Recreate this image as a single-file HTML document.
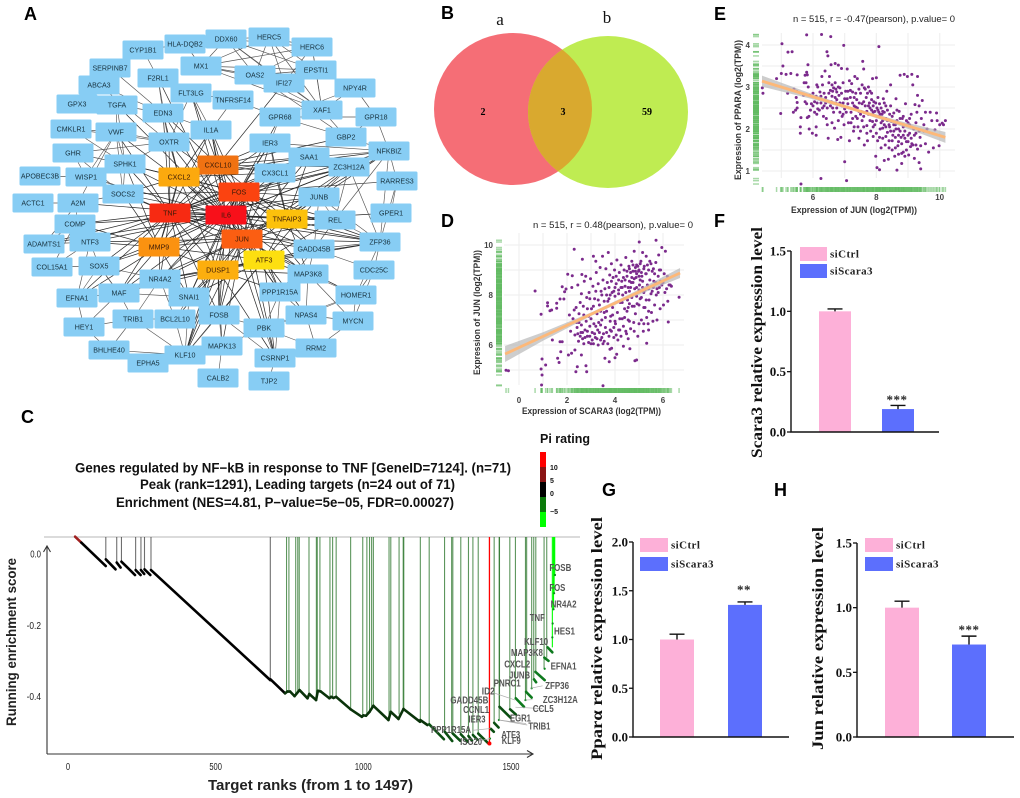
<!DOCTYPE html>
<html lang="en">
<head>
<meta charset="utf-8">
<title>Multi-panel gene expression figure</title>
<style>
html,body{margin:0;padding:0;background:#fff;}
svg{display:block;}
text{font-family:"Liberation Sans",sans-serif;}
.serif{font-family:"Liberation Serif",serif;font-weight:bold;}
.letter{font-size:18px;font-weight:bold;fill:#000;}
</style>
</head>
<body>
<svg id="fig" width="1020" height="798" viewBox="0 0 1020 798" xmlns="http://www.w3.org/2000/svg">
<rect x="0" y="0" width="1020" height="798" fill="#fff"/>

<text class="letter" x="24" y="20">A</text>
<text class="letter" x="441" y="19">B</text>
<text class="letter" x="21" y="423">C</text>
<text class="letter" x="441" y="227">D</text>
<text class="letter" x="714" y="20">E</text>
<text class="letter" x="714" y="227">F</text>
<text class="letter" x="602" y="496">G</text>
<text class="letter" x="774" y="496">H</text>

<g id="network"><g id="net-edges"></g><g id="net-nodes"></g></g>

<g id="venn">
<defs><clipPath id="clipA"><ellipse cx="513" cy="109" rx="79" ry="76"/></clipPath></defs>
<ellipse cx="513" cy="109" rx="79" ry="76" fill="#f56e76"/>
<ellipse cx="608" cy="112" rx="80" ry="76" fill="#bfec52"/>
<ellipse cx="608" cy="112" rx="80" ry="76" fill="#d9a92f" clip-path="url(#clipA)"/>
<text class="serif" style="font-weight:normal" x="500" y="25" font-size="17" text-anchor="middle" fill="#111">a</text>
<text class="serif" style="font-weight:normal" x="607" y="23" font-size="17" text-anchor="middle" fill="#111">b</text>
<text class="serif" x="483" y="115" font-size="10" text-anchor="middle">2</text>
<text class="serif" x="563" y="115" font-size="10" text-anchor="middle">3</text>
<text class="serif" x="647" y="115" font-size="10" text-anchor="middle">59</text>
</g>

<g id="scatterE">
<text x="793" y="22" font-size="9.5" textLength="162" lengthAdjust="spacingAndGlyphs" fill="#222">n = 515, r = -0.47(pearson), p.value= 0</text>
<text x="791" y="213" font-size="9" font-weight="bold" textLength="126" lengthAdjust="spacingAndGlyphs" fill="#333">Expression of JUN (log2(TPM))</text>
<text transform="translate(741,180) rotate(-90)" font-size="9" font-weight="bold" textLength="140" lengthAdjust="spacingAndGlyphs" fill="#333">Expression of PPARA (log2(TPM))</text>
</g>

<g id="scatterD">
<text x="533" y="228" font-size="9.5" textLength="160" lengthAdjust="spacingAndGlyphs" fill="#222">n = 515, r = 0.48(pearson), p.value= 0</text>
<text x="522" y="414" font-size="9" font-weight="bold" textLength="139" lengthAdjust="spacingAndGlyphs" fill="#333">Expression of SCARA3 (log2(TPM))</text>
<text transform="translate(480,375) rotate(-90)" font-size="9" font-weight="bold" textLength="125" lengthAdjust="spacingAndGlyphs" fill="#333">Expression of JUN (log2(TPM))</text>
</g>

<g id="gsea">
<text x="75" y="472.5" font-size="13.5" font-weight="bold" textLength="436" lengthAdjust="spacingAndGlyphs" fill="#111">Genes regulated by NF−kB in response to TNF [GeneID=7124]. (n=71)</text>
<text x="140" y="489" font-size="13.5" font-weight="bold" textLength="315" lengthAdjust="spacingAndGlyphs" fill="#111">Peak (rank=1291), Leading targets (n=24 out of 71)</text>
<text x="116" y="507" font-size="13.5" font-weight="bold" textLength="338" lengthAdjust="spacingAndGlyphs" fill="#111">Enrichment (NES=4.81, P−value=5e−05, FDR=0.00027)</text>
<text x="540" y="443" font-size="12.5" font-weight="bold" textLength="50" lengthAdjust="spacingAndGlyphs" fill="#111">Pi rating</text>
<text transform="translate(16,726) rotate(-90)" font-size="13.5" font-weight="bold" textLength="168" lengthAdjust="spacingAndGlyphs" fill="#222">Running enrichment score</text>
<text x="208" y="790" font-size="14.5" font-weight="bold" textLength="205" lengthAdjust="spacingAndGlyphs" fill="#222">Target ranks (from 1 to 1497)</text>
</g>

<g id="barF"></g>
<g id="barG"></g>
<g id="barH"></g>
</svg>

<script>
/* ---------- PANEL A DATA ---------- */
const netNodes = [
["CYP1B1",143,50],["HLA-DQB2",185,44],["DDX60",226,39],["HERC5",269,37],["HERC6",312,47],["SERPINB7",110,68],["MX1",201,66],["OAS2",255,75],["EPSTI1",316,70],["F2RL1",158,78],["ABCA3",99,85],["FLT3LG",191,93],["NPY4R",355,88],["IFI27",284,83],["GPX3",77,104],["TGFA",117,105],["TNFRSF14",233,100],["XAF1",322,110],["EDN3",163,113],["GPR68",280,117],["GPR18",376,117],["CMKLR1",71,129],["VWF",116,132],["IL1A",211,130],["GBP2",346,137],["OXTR",169,142],["IER3",270,143],["NFKBIZ",389,151],["GHR",73,153],["SAA1",309,157],["SPHK1",125,164],["ZC3H12A",349,167],["APOBEC3B",40,176],["WISP1",86,177],["CX3CL1",275,173],["RARRES3",397,181],["SOCS2",123,194],["JUNB",319,197],["ACTC1",33,203],["A2M",78,203],["REL",335,220],["GPER1",391,213],["COMP",75,224],["NTF3",90,242],["ADAMTS1",44,244],["ZFP36",380,242],["GADD45B",314,249],["COL15A1",52,267],["SOX5",99,266],["CDC25C",374,270],["MAP3K8",308,274],["NR4A2",160,279],["PPP1R15A",280,292],["MAF",119,293],["EFNA1",77,298],["SNAI1",189,297],["HOMER1",356,295],["NPAS4",306,315],["FOSB",219,315],["TRIB1",133,319],["BCL2L10",175,319],["MYCN",353,321],["HEY1",84,327],["PBK",264,328],["MAPK13",222,346],["RRM2",316,348],["BHLHE40",109,350],["KLF10",185,355],["CSRNP1",275,358],["EPHA5",148,363],["CALB2",218,378],["TJP2",269,381]
];
const hubNodes = [
["CXCL10",218,165,"#f07212"],["CXCL2",179,177,"#fca90e"],["FOS",239,192,"#fb4310"],["TNF",170,213,"#f72a12"],["IL6",226,215,"#f8101a"],["TNFAIP3",287,219,"#fcc10c"],["JUN",242,239,"#fb5e12"],["MMP9",159,247,"#fb9210"],["ATF3",264,260,"#fddf10"],["DUSP1",218,270,"#fcae0e"]
];
const hubLinks = {
IL6:"TNF FOS JUN CXCL2 CXCL10 MMP9 DUSP1 ATF3 TNFAIP3 SOCS2 IL1A OXTR EDN3 NR4A2 SNAI1 FOSB MAF NTF3 A2M COMP SOX5 WISP1 SPHK1 VWF TGFA IER3 SAA1 CX3CL1 JUNB REL GADD45B MAP3K8 PPP1R15A ZFP36 NFKBIZ ZC3H12A GPR68 KLF10 ADAMTS1 F2RL1 FLT3LG PBK",
TNF:"FOS JUN CXCL2 CXCL10 MMP9 DUSP1 ATF3 TNFAIP3 SOCS2 IL1A OXTR EDN3 NR4A2 SNAI1 FOSB MAF NTF3 COMP SOX5 WISP1 SPHK1 VWF IER3 SAA1 CX3CL1 JUNB REL GADD45B ZFP36 ZC3H12A ADAMTS1 EFNA1",
FOS:"JUN CXCL2 CXCL10 MMP9 DUSP1 ATF3 TNFAIP3 IL1A NR4A2 SNAI1 FOSB IER3 SAA1 CX3CL1 JUNB REL GADD45B MAP3K8 PPP1R15A ZFP36 NFKBIZ ZC3H12A KLF10 CSRNP1 SOCS2 SPHK1 OXTR RARRES3",
JUN:"CXCL2 CXCL10 MMP9 DUSP1 ATF3 TNFAIP3 IL1A NR4A2 SNAI1 FOSB IER3 SAA1 CX3CL1 JUNB REL GADD45B MAP3K8 PPP1R15A ZFP36 NFKBIZ ZC3H12A KLF10 CSRNP1 MAF NTF3 MAPK13 HOMER1",
CXCL2:"CXCL10 MMP9 DUSP1 TNFAIP3 IL1A EDN3 SAA1 CX3CL1 OXTR NFKBIZ SOCS2 SPHK1",
CXCL10:"MMP9 TNFAIP3 IL1A IFI27 SAA1 CX3CL1 EDN3 FLT3LG IER3 GBP2 ZC3H12A",
MMP9:"DUSP1 ATF3 TNFAIP3 SOCS2 NTF3 SOX5 COMP EFNA1 MAF NR4A2 SNAI1 SPHK1",
DUSP1:"ATF3 TNFAIP3 NR4A2 SNAI1 FOSB KLF10 MAP3K8 PPP1R15A GADD45B ZFP36 MAF CSRNP1 BCL2L10 MAPK13",
ATF3:"TNFAIP3 NR4A2 SNAI1 FOSB GADD45B MAP3K8 PPP1R15A ZFP36 KLF10 REL JUNB CSRNP1 NPAS4",
TNFAIP3:"REL JUNB GADD45B ZFP36 NFKBIZ ZC3H12A IER3 SAA1 CX3CL1 MAP3K8 GPER1"
};
const otherLinks = "MX1-OAS2 MX1-IFI27 MX1-EPSTI1 MX1-HERC5 MX1-HERC6 MX1-DDX60 MX1-XAF1 MX1-HLA-DQB2 OAS2-IFI27 OAS2-EPSTI1 OAS2-HERC5 OAS2-HERC6 OAS2-DDX60 OAS2-XAF1 OAS2-GBP2 IFI27-EPSTI1 IFI27-HERC5 IFI27-HERC6 IFI27-DDX60 IFI27-XAF1 EPSTI1-HERC5 EPSTI1-HERC6 EPSTI1-DDX60 EPSTI1-XAF1 HERC5-HERC6 HERC5-DDX60 HERC5-XAF1 HERC6-DDX60 HERC6-XAF1 DDX60-XAF1 DDX60-HLA-DQB2 XAF1-GBP2 GBP2-NFKBIZ CYP1B1-HLA-DQB2 CYP1B1-SERPINB7 CYP1B1-F2RL1 SERPINB7-EDN3 ABCA3-EDN3 ABCA3-OXTR F2RL1-EDN3 F2RL1-FLT3LG F2RL1-OXTR GPX3-TGFA TGFA-EDN3 TGFA-SPHK1 TGFA-VWF EDN3-OXTR EDN3-IL1A VWF-WISP1 VWF-SPHK1 VWF-OXTR VWF-SOCS2 VWF-A2M FLT3LG-IL1A FLT3LG-OXTR FLT3LG-TNFRSF14 TNFRSF14-IL1A TNFRSF14-GPR68 NPY4R-XAF1 NPY4R-GPR68 NPY4R-GPR18 GPR18-GPR68 GPR18-NFKBIZ GPR18-GBP2 GPR68-GBP2 GPR68-IER3 IER3-SAA1 IER3-ZC3H12A IER3-NFKBIZ IER3-CX3CL1 SAA1-CX3CL1 SAA1-ZC3H12A SAA1-NFKBIZ ZC3H12A-NFKBIZ ZC3H12A-JUNB ZC3H12A-REL ZC3H12A-ZFP36 NFKBIZ-RARRES3 NFKBIZ-REL NFKBIZ-ZFP36 RARRES3-GPER1 RARRES3-ZFP36 JUNB-REL JUNB-ZFP36 JUNB-GADD45B REL-ZFP36 REL-GADD45B GADD45B-ZFP36 GADD45B-MAP3K8 GADD45B-PPP1R15A GADD45B-CDC25C ZFP36-CDC25C ZFP36-HOMER1 CDC25C-HOMER1 CDC25C-MYCN HOMER1-NPAS4 HOMER1-MYCN HOMER1-MAP3K8 MAP3K8-NPAS4 MAP3K8-PPP1R15A MAP3K8-MYCN PPP1R15A-NPAS4 PPP1R15A-PBK PPP1R15A-CSRNP1 NPAS4-RRM2 NPAS4-MYCN NPAS4-PBK MYCN-RRM2 PBK-RRM2 PBK-CSRNP1 PBK-MAPK13 PBK-FOSB PBK-HOMER1 RRM2-CSRNP1 CSRNP1-TJP2 CSRNP1-FOSB MAPK13-CALB2 MAPK13-KLF10 MAPK13-FOSB KLF10-FOSB KLF10-EPHA5 KLF10-BHLHE40 KLF10-BCL2L10 KLF10-TRIB1 KLF10-SNAI1 FOSB-SNAI1 FOSB-NR4A2 FOSB-BCL2L10 BCL2L10-TRIB1 BCL2L10-NR4A2 BCL2L10-SNAI1 TRIB1-BHLHE40 TRIB1-MAF TRIB1-NR4A2 TRIB1-HEY1 BHLHE40-EPHA5 BHLHE40-HEY1 HEY1-MAF HEY1-EFNA1 EFNA1-MAF EFNA1-SOX5 EFNA1-NTF3 MAF-SOX5 MAF-NR4A2 MAF-SNAI1 NR4A2-SNAI1 COL15A1-SOX5 COL15A1-NTF3 COL15A1-COMP ADAMTS1-COMP ADAMTS1-NTF3 ADAMTS1-A2M NTF3-SOX5 NTF3-COMP COMP-A2M ACTC1-A2M A2M-SOCS2 APOBEC3B-WISP1 WISP1-SPHK1 WISP1-SOCS2 WISP1-GHR GHR-SPHK1 GHR-SOCS2 GHR-OXTR CMKLR1-SPHK1 CMKLR1-OXTR CMKLR1-VWF SPHK1-OXTR SOCS2-SPHK1 SOX5-NR4A2 SOX5-MAF".split(" ");

/* ---------- PANEL E DATA (JUN, PPARA) ---------- */
const eRegressionX = [4.39, 10.18];
const eRegressionY = [3.14, 1.80];
const eBandX = [4.39, 6.0, 7.4, 8.8, 10.18];
const eBandHalf = [0.13, 0.06, 0.035, 0.06, 0.13];
const eXTicks = [6, 8, 10];
const eYTicks = [1, 2, 3, 4];
const ePoints = [
[4.4,2.98],[4.42,2.85],[4.85,3.2],[5.0,3.32],[5.05,3.5],[5.02,4.03],[5.21,3.83],[5.34,3.84],[5.15,3.3],[5.3,3.32],[4.98,2.37],[5.2,2.85],[5.4,2.95],[5.48,2.9],[5.5,3.29],[5.38,2.4],[5.45,2.45],[5.5,2.5],[5.47,2.75],[5.5,2.63],[5.6,1.9],[5.6,2.05],[5.62,2.27],[5.62,0.69],[5.8,4.24],[5.72,3.1],[5.75,3.28],[5.8,3.35],[5.82,3.29],[5.84,3.53],[5.78,3.1],[5.85,3.0],[5.75,2.65],[5.7,2.8],[5.8,2.6],[5.9,2.8],[5.82,2.27],[5.87,2.3],[5.88,2.0],[5.95,2.6],[5.98,1.9],[6.0,2.85],[6.05,2.65],[6.1,1.85],[6.1,2.05],[6.12,2.35],[6.13,2.62],[6.12,3.05],[6.15,3.0],[6.2,2.45],[6.22,2.88],[6.25,2.78],[6.27,4.25],[6.25,0.82],[6.28,3.25],[6.33,2.3],[6.35,2.85],[6.38,3.38],[6.4,2.62],[6.42,2.25],[6.44,3.84],[6.47,3.74],[6.45,2.1],[6.48,1.78],[6.5,2.85],[6.52,3.25],[6.55,2.55],[6.56,4.2],[6.57,3.53],[6.6,3.05],[6.62,2.9],[6.65,2.4],[6.68,2.02],[6.7,3.56],[6.72,2.95],[6.75,2.7],[6.78,1.75],[6.8,3.52],[6.8,2.2],[6.82,2.8],[6.85,2.98],[6.88,1.8],[6.9,3.44],[6.92,2.55],[6.95,2.35],[6.97,3.99],[6.98,2.1],[7.0,1.22],[7.0,2.72],[7.03,2.9],[7.06,0.77],[7.08,3.43],[7.1,2.6],[7.12,2.15],[7.15,1.72],[7.18,2.75],[7.2,2.4],[7.22,3.08],[7.25,2.88],[7.28,1.95],[7.3,2.55],[7.32,3.25],[7.35,2.3],[7.38,2.7],[7.4,3.2],[7.42,2.05],[7.45,1.78],[7.46,2.62],[7.5,2.85],[7.52,2.42],[7.55,2.2],[7.57,3.61],[7.6,3.43],[7.62,2.98],[7.62,1.62],[7.65,2.55],[7.68,2.75],[7.7,2.08],[7.72,1.72],[7.75,3.0],[7.75,2.35],[7.78,2.62],[7.8,2.9],[7.82,1.95],[7.85,2.45],[7.88,3.2],[7.88,2.18],[7.9,1.82],[7.92,2.65],[7.95,2.42],[7.98,1.35],[8.0,2.2],[8.0,3.22],[8.02,1.08],[8.04,1.72],[8.05,2.45],[8.08,3.96],[8.1,1.03],[8.1,2.6],[8.12,2.0],[8.15,1.55],[8.18,2.35],[8.2,1.78],[8.22,2.72],[8.25,1.25],[8.25,2.1],[8.28,1.62],[8.3,2.55],[8.33,2.9],[8.35,1.92],[8.38,1.28],[8.4,1.72],[8.42,2.35],[8.45,3.05],[8.48,2.18],[8.5,1.5],[8.52,1.85],[8.55,2.38],[8.58,1.35],[8.6,2.1],[8.62,2.72],[8.65,1.02],[8.68,1.6],[8.7,2.0],[8.72,2.42],[8.75,3.28],[8.78,1.8],[8.8,1.18],[8.82,2.25],[8.85,1.45],[8.88,3.3],[8.9,1.95],[8.92,2.6],[8.95,1.7],[8.98,3.25],[9.0,2.15],[9.02,1.38],[9.05,1.9],[9.08,1.58],[9.1,2.35],[9.12,3.3],[9.15,3.05],[9.18,2.0],[9.2,1.3],[9.22,2.58],[9.25,1.9],[9.28,2.4],[9.3,3.25],[9.3,2.8],[9.35,1.2],[9.38,1.8],[9.4,1.05],[9.42,2.25],[9.45,2.68],[9.5,1.95],[9.55,2.4],[9.65,1.45],[9.7,2.4],[9.75,2.2],[9.8,1.55],[9.85,1.98],[9.9,2.38],[9.92,2.2],[9.98,1.6],[10.0,2.1],[10.08,2.14],[10.12,2.1],[10.18,2.2],
[6.3,2.5],[6.6,2.15],[6.9,2.85],[7.15,2.5],[7.4,2.5],[7.6,2.3],[7.72,2.85],[7.9,2.4],[8.05,2.3],[8.15,2.15],[8.3,2.25],[8.42,2.05],[8.55,2.1],[8.7,1.85],[8.85,2.05],[9.0,1.85],[9.12,1.65],[8.2,2.42],[7.95,2.1],[7.75,2.55],[7.3,2.75],[7.05,2.4],[6.75,2.5],[6.4,2.75],[8.75,2.25],[8.35,2.45],[8.95,2.2],[7.55,2.6],[7.1,2.9],[6.7,2.75],
[6.55,2.92],[6.6,2.78],[6.65,2.98],[6.7,3.1],[6.75,2.88],[6.8,3.0],[6.58,2.65],[6.62,2.5],[6.72,2.62],[6.85,2.62],[6.92,2.3],[7.0,2.48],[7.08,2.72],[7.18,2.92],[7.25,2.62],[7.35,2.52],[7.45,2.95],[7.5,2.35],[7.6,2.65],[7.7,2.42],[7.8,2.5],[7.85,2.7],[7.9,2.55],[7.98,2.62],[8.02,2.5],[8.08,2.4],[8.12,2.35],[8.15,2.5],[8.2,2.2],[8.25,2.4],[8.3,2.05],[8.35,2.2],[8.4,2.1],[8.45,1.95],[8.5,2.3],[8.55,1.95],[8.6,1.8],[8.62,2.0],[8.65,2.2],[8.7,1.7],[8.75,1.95],[8.8,1.65],[8.85,1.85],[8.9,1.78],[8.95,1.5],[9.0,1.7],[9.05,2.25],[9.1,1.78],[9.15,1.62],[9.2,1.85],[9.25,1.62],[9.3,1.52],[9.35,1.95],[7.5,1.95],[7.6,2.05],[7.7,1.9],[7.8,2.2],[7.9,2.05],[8.0,1.9],[8.1,1.8],[8.2,2.02],[8.3,1.82],[8.4,1.55],[8.5,1.72],[8.6,1.55],[8.7,1.4],[8.8,1.42],[8.9,1.35],[7.2,2.15],[7.3,2.05],[7.4,2.25],[7.45,2.42],[7.35,2.85],[7.25,2.25],[6.95,2.62],[6.85,2.4],[6.45,2.5],[6.35,2.55],[6.25,2.62],[6.2,2.72],[6.15,2.48],[6.05,2.4],[6.0,2.55],[5.92,2.45],[7.65,2.95],[7.85,2.85],[8.05,2.75],[8.25,2.62],[8.45,2.55],[8.65,2.45],[8.85,2.3],[9.05,2.1],[7.55,3.05],[7.15,3.15],[6.95,3.1],[6.5,3.1],[6.3,3.05],[6.1,2.78],[9.4,1.6],[9.5,2.1],[9.6,2.0],[9.55,1.65],[9.25,2.15],[9.1,2.05],[9.35,2.55]
];

/* ---------- PANEL D DATA (SCARA3, JUN) ---------- */
const dRegressionX = [-0.58, 6.71];
const dRegressionY = [5.64, 8.88];
const dBandX = [-0.58, 1.0, 3.0, 4.5, 6.71];
const dBandHalf = [0.32, 0.17, 0.07, 0.08, 0.2];
const dXTicks = [0, 2, 4, 6];
const dYTicks = [6, 8, 10];
const dPoints = [
[-0.54,4.99],[-0.44,4.97],[0.67,8.16],[0.92,7.23],[0.92,5.04],[0.96,5.44],[0.96,4.8],[0.94,4.4],[1.11,5.2],[1.19,7.69],[1.19,7.56],[1.29,7.37],[1.36,7.4],[1.57,7.47],[1.57,7.67],[1.71,7.84],[1.87,7.84],[1.8,8.33],[1.96,8.24],[1.9,8.13],[2.3,9.83],[2.03,8.83],[2.22,8.77],[2.64,9.43],[3.5,4.37],[5.01,10.12],[5.71,10.19],[6.67,7.91],[6.22,6.92],[5.32,6.07],[4.83,5.37],[4.9,5.4],[3.58,5.47],[3.76,5.33],[4.0,5.49],[4.07,5.63],[3.86,5.87],[3.79,5.83],[2.43,5.13],[2.37,4.93],[2.82,4.93],[2.79,5.17],[2.6,5.6],[2.19,5.67],[2.33,5.8],[1.71,6.13],[1.8,6.13],[1.74,5.73],[1.61,5.47],[2.06,5.6],[1.39,6.2],[1.67,5.3],
[2.1,7.2],[2.15,6.55],[2.2,8.3],[2.25,7.05],[2.3,7.4],[2.33,6.4],[2.38,7.5],[2.42,6.7],[2.45,8.4],[2.48,6.15],[2.5,6.9],[2.55,7.7],[2.58,6.5],[2.6,8.05],[2.62,8.82],[2.65,6.25],[2.68,7.55],[2.72,8.55],[2.75,6.6],[2.78,8.75],[2.8,6.95],[2.82,7.9],[2.85,6.35],[2.9,7.15],[2.92,8.1],[2.95,6.75],[2.98,8.65],[3.0,6.05],[3.02,7.45],[3.05,6.5],[3.08,8.35],[3.1,9.55],[3.12,6.85],[3.15,7.85],[3.18,6.3],[3.2,9.35],[3.22,8.9],[3.25,7.25],[3.28,6.6],[3.3,8.45],[3.32,6.9],[3.35,7.6],[3.38,9.1],[3.4,6.2],[3.42,8.15],[3.45,7.0],[3.48,9.55],[3.5,8.6],[3.52,6.45],[3.55,7.75],[3.58,8.25],[3.6,6.7],[3.62,9.05],[3.65,7.35],[3.68,8.5],[3.7,6.05],[3.72,9.7],[3.75,7.85],[3.78,8.8],[3.8,6.6],[3.82,7.15],[3.85,9.25],[3.88,8.1],[3.9,7.5],[3.92,8.7],[3.95,6.3],[3.98,9.0],[4.0,7.95],[4.02,6.85],[4.05,8.45],[4.08,9.4],[4.1,7.3],[4.12,6.2],[4.15,8.2],[4.18,8.9],[4.2,6.6],[4.22,7.7],[4.25,9.2],[4.28,8.55],[4.3,7.05],[4.32,8.0],[4.35,5.95],[4.38,9.0],[4.4,7.45],[4.42,8.35],[4.45,9.5],[4.48,6.45],[4.5,8.75],[4.52,7.8],[4.55,7.0],[4.58,9.15],[4.6,8.15],[4.62,5.85],[4.65,6.65],[4.68,8.5],[4.7,9.35],[4.72,7.55],[4.75,8.95],[4.78,6.9],[4.8,9.75],[4.82,8.25],[4.85,7.25],[4.88,8.7],[4.9,9.2],[4.92,7.65],[4.95,6.35],[4.98,8.95],[5.0,9.0],[5.02,8.4],[5.05,7.85],[5.08,9.35],[5.1,7.0],[5.12,8.75],[5.15,9.7],[5.18,6.55],[5.2,8.1],[5.22,9.15],[5.25,7.5],[5.28,8.85],[5.3,9.55],[5.32,7.1],[5.35,8.4],[5.38,6.85],[5.4,9.0],[5.42,7.8],[5.45,8.6],[5.5,9.25],[5.52,7.3],[5.55,8.15],[5.58,6.95],[5.6,9.05],[5.62,8.55],[5.65,7.6],[5.7,9.3],[5.72,8.0],[5.75,7.0],[5.8,8.75],[5.82,9.6],[5.85,8.3],[5.88,7.45],[5.9,9.0],[5.95,9.9],[6.0,8.5],[6.02,7.6],[6.05,8.85],[6.08,8.1],[6.1,9.75],[6.15,8.25],[6.18,8.75],[6.2,7.75],[6.25,8.4],[6.3,8.4],[6.35,8.35],[4.42,8.6],[4.6,8.55],[4.75,8.5],[4.9,8.85],[5.05,8.6],[4.3,8.3],[4.15,8.6],[5.0,8.2],[4.65,8.9],[4.85,9.1],[5.15,8.3],[4.0,8.3],[4.55,7.5],[3.7,7.75],[3.4,7.35],
[2.45,6.45],[2.55,6.35],[2.65,6.5],[2.75,6.3],[2.85,6.55],[2.95,6.35],[3.05,6.2],[3.15,6.45],[3.25,6.25],[3.35,6.5],[3.45,6.3],[3.55,6.15],[3.65,6.5],[3.75,6.35],[3.85,6.55],[3.95,6.7],[4.05,6.4],[4.15,6.6],[4.25,6.35],[4.35,6.75],[4.45,6.55],[4.55,6.25],[2.6,6.8],[2.7,6.05],[2.9,6.1],[3.1,6.05],[3.3,6.0],[3.5,6.05],[2.4,6.9],[2.5,7.25],[2.7,7.2],[3.0,7.05],[3.2,6.75],[3.4,6.8],[3.6,7.1],[3.8,6.95],[4.0,6.95],[4.2,7.05],[4.4,7.1],[4.6,6.95],[4.8,6.55],[5.0,6.85],[5.2,6.85],[5.4,6.6],[3.75,8.3],[3.85,8.55],[3.95,8.15],[4.05,8.75],[4.15,8.05],[4.25,8.3],[4.35,8.7],[4.45,8.1],[4.5,8.95],[4.55,8.3],[4.6,9.05],[4.65,8.3],[4.7,8.7],[4.75,9.2],[4.8,8.65],[4.85,8.95],[4.9,8.3],[4.95,9.15],[5.0,8.75],[5.05,9.25],[5.1,8.9],[5.15,8.55],[5.2,9.05],[5.25,8.2],[5.3,8.85],[5.35,9.2],[5.4,8.25],[5.45,9.35],[5.5,8.05],[5.55,8.95],[5.6,8.3],[5.65,8.85],[5.7,8.5],[5.75,8.25],[5.8,8.1],[5.85,9.0],[5.9,8.55],[5.95,8.4],[4.3,7.7],[4.4,7.85],[4.5,7.35],[4.6,7.65],[4.7,7.9],[4.8,7.55],[4.9,7.95],[5.0,7.6],[5.1,7.9],[5.2,7.5],[5.3,7.8],[5.4,7.35],[3.45,8.0],[3.55,7.3],[3.65,8.0],[3.8,8.0],[3.9,7.2],[3.2,8.15],[3.3,7.8],[3.1,7.55],[2.95,7.85],[2.85,7.45]
];

/* ---------- PANEL C DATA ---------- */
const rankTicks = [0, 500, 1000, 1500];
const scoreTicks = [0.0, -0.2, -0.4];
const scoreTickLabels = ["0.0", "-0.2", "-0.4"];
const hitRanks = [128,165,181,229,247,259,281,685,740,748,771,778,783,816,841,844,853,887,896,908,957,998,1012,1021,1028,1034,1087,1093,1121,1135,1137,1193,1223,1275,1299,1303,1330,1356,1371,1389,1427,1443,1460,1461,1496,1515,1549,1553,1570,1577,1584,1612,1621,1640,1644,1646,1648];
const hitScores = [-0.015,-0.024,-0.0215,-0.045,-0.045,-0.043,-0.045,-0.349,-0.386,-0.386,-0.395,-0.39,-0.382,-0.393,-0.395,-0.384,-0.386,-0.403,-0.402,-0.401,-0.436,-0.455,-0.453,-0.443,-0.433,-0.426,-0.455,-0.443,-0.45,-0.435,-0.435,-0.466,-0.478,-0.499,-0.505,-0.504,-0.506,-0.511,-0.508,-0.504,-0.532,-0.474,-0.466,-0.429,-0.436,-0.405,-0.41,-0.387,-0.377,-0.352,-0.331,-0.322,-0.291,-0.262,-0.155,-0.11,-0.059];
const hitPi = [1,1,1,1,1,1,1,1,-3,-3,-3,-3,-3,-3,-3,-3,-3,-3,-3,-3,-3,-3,-3,-3,-3,-3,-3,-3,-3,-3,-3,-3,-3,-3,-3,-3,-3,-3,-3,-3,10,-4,-4,-4,-4,-4,-4,-4,-4,-4,-4,-6,-6,-9,-9,-9,-9];
const curveRanks = [24,45,128,null,128,161,null,165,178,null,181,227,null,229,246,null,247,258,null,259,279,null,281,685,null,686,735,743,752,767,784,811,817,840,846,856,885,891,899,908,957,995,1000,1009,1021,1034,1085,1093,1119,1136,1192,null,1193,1217,null,1223,1273,null,1276,1301,null,1303,1328,null,1330,1354,null,1356,1368,null,1371,1386,null,1389,1424,null,1432,1442,null,1443,1458,null,1461,1499,null,1497,1516,null,1516,1544,null,1551,1570,null,1578,1585,null,1583,1614,null,1613,1627,null,1624,1640];
const curveScores = [0.0487,0.032,-0.0337,null,-0.015,-0.043,null,-0.024,-0.038,null,-0.0215,-0.059,null,-0.045,-0.059,null,-0.045,-0.056,null,-0.043,-0.059,null,-0.045,-0.354,null,-0.352,-0.391,-0.386,-0.386,-0.399,-0.382,-0.405,-0.393,-0.41,-0.384,-0.386,-0.405,-0.401,-0.404,-0.401,-0.436,-0.457,-0.453,-0.454,-0.443,-0.426,-0.466,-0.443,-0.463,-0.435,-0.471,null,-0.466,-0.48,null,-0.478,-0.52,null,-0.499,-0.525,null,-0.504,-0.524,null,-0.506,-0.527,null,-0.511,-0.524,null,-0.508,-0.521,null,-0.504,-0.532,null,-0.491,-0.499,null,-0.474,-0.487,null,-0.429,-0.46,null,-0.436,-0.45,null,-0.405,-0.429,null,-0.387,-0.403,null,-0.352,-0.36,null,-0.331,-0.354,null,-0.291,-0.3,null,-0.262,-0.276];
const dotRanks = [1429,1459,1549,1570,1614,1640,1641,1644,1646,1649];
const dotScores = [-0.518,-0.466,-0.41,-0.377,-0.322,-0.234,-0.195,-0.155,-0.11,-0.059];
const geneLabels = ["FOSB","FOS","NR4A2","TNF","HES1","KLF10","MAP3K8","CXCL2","EFNA1","JUNB","PNRC1","ZFP36","ID2","GADD45B","ZC3H12A","CCNL1","CCL5","IER3","EGR1","TRIB1","PPP1R15A","ATF3","KLF9","ISG20"];
const geneLabelRanks = [1667,1657,1678,1589,1681,1585,1554,1521,1678,1529,1487,1656,1423,1359,1667,1382,1609,1385,1532,1596,1297,1499,1501,1365];
const geneLabelScores = [-0.038,-0.094,-0.141,-0.178,-0.216,-0.245,-0.276,-0.309,-0.315,-0.34,-0.362,-0.369,-0.384,-0.41,-0.408,-0.436,-0.434,-0.463,-0.46,-0.483,-0.493,-0.506,-0.524,-0.526];
const geneLabelWidths = [22,16,26,15,21,24,32,26,26,21,27,24,13,38,35,26,21,17,21,22,40,19,19,22];
const connectorLabelRanks = [1446,1607,1573,1606,1551,1555,1368,1391];
const connectorLabelScores = [-0.391,-0.37,-0.409,-0.434,-0.476,-0.48,-0.495,-0.525];
const connectorPointRanks = [1514,1565,1549,1515,1459,1459,1430,1429];
const connectorPointScores = [-0.41,-0.377,-0.41,-0.43,-0.466,-0.466,-0.49,-0.518];
const piLegendColors = ["#ff0000","#8a1414","#000000","#0a7a0a","#00ff00"];
const piLegendLabels = ["10","5","0","−5"];

/* ---------- BAR PANEL DATA ---------- */
const barGroups = ["siCtrl", "siScara3"];
const fValues = [1.0, 0.19];
const fErrors = [0.02, 0.03];
const fTicks = ["0.0", "0.5", "1.0", "1.5"];
const gValues = [1.0, 1.355];
const gErrors = [0.055, 0.03];
const gTicks = ["0.0", "0.5", "1.0", "1.5", "2.0"];
const hValues = [1.0, 0.715];
const hErrors = [0.05, 0.065];
const hTicks = ["0.0", "0.5", "1.0", "1.5"];

/* ---------- HELPERS ---------- */
const NS = "http://www.w3.org/2000/svg";
function mk(tag, attrs, parent) {
  const n = document.createElementNS(NS, tag);
  for (const k in attrs) n.setAttribute(k, attrs[k]);
  parent.appendChild(n);
  return n;
}
function linear(d0, r0, d1, r1) {
  return v => r0 + (v - d0) * (r1 - r0) / (d1 - d0);
}

/* ---------- NETWORK ---------- */
(function () {
  const edgeLayer = document.getElementById("net-edges");
  const nodeLayer = document.getElementById("net-nodes");
  const pos = {};
  netNodes.forEach(n => { pos[n[0]] = n; });
  hubNodes.forEach(n => { pos[n[0]] = n; });
  function edge(a, b, dark) {
    if (!pos[a] || !pos[b]) return;
    const el = mk("line", { x1: pos[a][1], y1: pos[a][2], x2: pos[b][1], y2: pos[b][2], stroke: dark ? "#2a2a2a" : "#555", "stroke-width": dark ? 0.7 : 0.65 }, edgeLayer);
    
    
  }
  Object.keys(hubLinks).forEach(h => hubLinks[h].split(" ").forEach(p => edge(h, p, true)));
  otherLinks.forEach(pair => {
    const known = Object.keys(pos).filter(k => pair.startsWith(k + "-")).sort((a, b) => b.length - a.length)[0];
    if (known) edge(known, pair.slice(known.length + 1), false);
  });
  netNodes.forEach(n => {
    const box = mk("rect", { x: n[1] - 20.5, y: n[2] - 9.5, width: 41, height: 19, rx: 1.5, fill: "#87cdf4" }, nodeLayer);
    
    
    const t = mk("text", { x: n[1], y: n[2] + 2.5, "font-size": 7.1, "text-anchor": "middle", fill: "#17323f" }, nodeLayer);
    t.textContent = n[0];
    
    
  });
  hubNodes.forEach(n => {
    const box = mk("rect", { x: n[1] - 20.5, y: n[2] - 9.5, width: 41, height: 19, rx: 1.5, fill: n[3] }, nodeLayer);
    
    
    const t = mk("text", { x: n[1], y: n[2] + 2.5, "font-size": 7.1, "text-anchor": "middle", fill: "#3a1a08" }, nodeLayer);
    t.textContent = n[0];
    
    
  });
})();

/* ---------- SCATTERS ---------- */
function drawScatter(cfg) {
  const g = document.getElementById(cfg.id);
  const sx = cfg.sx, sy = cfg.sy;
  const grid = mk("g", {}, g);
  
  
  for (let v = cfg.gridX[0]; v <= cfg.gridX[1]; v += cfg.gridX[2]) {
    mk("line", { x1: sx(v), x2: sx(v), y1: cfg.top, y2: cfg.bottom, stroke: "#f0f0f0", "stroke-width": 1.2 }, grid);
  }
  for (let v = cfg.gridY[0]; v <= cfg.gridY[1]; v += cfg.gridY[2]) {
    mk("line", { y1: sy(v), y2: sy(v), x1: cfg.left, x2: cfg.right, stroke: "#f0f0f0", "stroke-width": 1.2 }, grid);
  }
  cfg.points.forEach(p => {
    const rx = mk("line", { x1: sx(p[0]), x2: sx(p[0]), y1: cfg.rugBottom[0], y2: cfg.rugBottom[1], stroke: "#63bb63", "stroke-width": 1.5, opacity: 0.55 }, g);
    
    
    const ry = mk("line", { y1: sy(p[1]), y2: sy(p[1]), x1: cfg.rugLeft[0], x2: cfg.rugLeft[1], stroke: "#63bb63", "stroke-width": 1.5, opacity: 0.55 }, g);
    
    
  });
  cfg.points.forEach(p => {
    const c = mk("circle", { cx: sx(p[0]), cy: sy(p[1]), r: 1.5, fill: "#7b2a8c" }, g);
    
    
  });
  const fit = v => cfg.fitY[0] + (v - cfg.fitX[0]) * (cfg.fitY[1] - cfg.fitY[0]) / (cfg.fitX[1] - cfg.fitX[0]);
  const upper = cfg.bandX.map((v, i) => sx(v) + "," + sy(fit(v) + cfg.bandHalf[i]));
  const lower = cfg.bandX.map((v, i) => sx(v) + "," + sy(fit(v) - cfg.bandHalf[i])).reverse();
  const band = mk("polygon", { points: upper.concat(lower).join(" "), fill: "#b8b8b8", opacity: 0.7 }, g);
  
  
  const line = mk("line", { x1: sx(cfg.fitX[0]), y1: sy(cfg.fitY[0]), x2: sx(cfg.fitX[1]), y2: sy(cfg.fitY[1]), stroke: "#fdb878", "stroke-width": 2.8 }, g);
  
  
  cfg.xTicks.forEach(v => {
    const t = mk("text", { x: sx(v), y: cfg.xLabelY, "font-size": 8, "font-weight": "bold", "text-anchor": "middle", fill: "#444" }, g);
    t.textContent = v;
    
    
  });
  cfg.yTicks.forEach(v => {
    const t = mk("text", { x: cfg.yLabelX, y: sy(v) + 3, "font-size": 8, "font-weight": "bold", "text-anchor": "end", fill: "#444" }, g);
    t.textContent = v;
    
    
  });
}
drawScatter({ id: "scatterE", sx: linear(6, 813, 10, 939.7), sy: linear(1, 171, 4, 45),
  top: 33, bottom: 178, left: 762, right: 955, gridX: [5, 10, 1], gridY: [1, 4, 0.5],
  rugBottom: [187, 192], rugLeft: [753, 759], points: ePoints,
  fitX: eRegressionX, fitY: eRegressionY, bandX: eBandX, bandHalf: eBandHalf,
  xTicks: eXTicks, yTicks: eYTicks, xLabelY: 200, yLabelX: 750 });
drawScatter({ id: "scatterD", sx: linear(0, 519, 6, 663), sy: linear(6, 345, 10, 245),
  top: 233, bottom: 385, left: 504, right: 684, gridX: [0, 6, 1], gridY: [5, 10, 1],
  rugBottom: [388, 393], rugLeft: [496, 502], points: dPoints,
  fitX: dRegressionX, fitY: dRegressionY, bandX: dBandX, bandHalf: dBandHalf,
  xTicks: dXTicks, yTicks: dYTicks, xLabelY: 403, yLabelX: 493 });

/* ---------- ENRICHMENT ---------- */
(function () {
  const g = document.getElementById("gsea");
  const sx = linear(0, 68, 1500, 511);
  const sy = linear(0, 554, -0.4, 696.5);
  function piColor(v) {
    if (v > 7.5) return piLegendColors[0];
    if (v > 2.5) return piLegendColors[1];
    if (v > -2.5) return "#333333";
    if (v > -7.5) return "#1a6a1a";
    return piLegendColors[4];
  }
  function curveColor(r) {
    if (r < 40) return "#a02020";
    if (r < 700) return "#000000";
    if (r < 1200) return "#0a330a";
    if (r < 1500) return "#0b4f12";
    return "#0e7a1e";
  }
  const top = mk("line", { x1: 44, x2: 580, y1: 537, y2: 537, stroke: "#cfcfcf", "stroke-width": 1.5 }, g);
  
  
  hitRanks.forEach((r, i) => {
    const s = mk("line", { x1: sx(r), x2: sx(r), y1: 537, y2: sy(hitScores[i]), stroke: piColor(hitPi[i]), "stroke-width": hitPi[i] > 7.5 ? 1.3 : 1.1, opacity: hitPi[i] > 7.5 || hitPi[i] < -7.5 ? 1 : 0.7 }, g);
    
    
  });
  for (let i = 0; i < curveRanks.length - 1; i++) {
    if (curveRanks[i] === null || curveRanks[i + 1] === null) continue;
    const c = mk("line", { x1: sx(curveRanks[i]), y1: sy(curveScores[i]), x2: sx(curveRanks[i + 1]), y2: sy(curveScores[i + 1]), stroke: curveColor(curveRanks[i]), "stroke-width": 2.6, "stroke-linecap": "round" }, g);
    
    
  }
  dotRanks.forEach((r, i) => {
    const d = mk("circle", { cx: sx(r), cy: sy(dotScores[i]), r: 1.1, fill: "#0e8a20" }, g);
    
    
  });
  const peak = mk("circle", { cx: sx(1427), cy: sy(-0.532), r: 2, fill: "#ff0000" }, g);
  
  
  connectorLabelRanks.forEach((r, i) => {
    const l = mk("line", { x1: sx(r), y1: sy(connectorLabelScores[i]), x2: sx(connectorPointRanks[i]), y2: sy(connectorPointScores[i]), stroke: "#aaa", "stroke-width": 0.7 }, g);
    
    
  });
  geneLabels.forEach((name, i) => {
    const t = mk("text", { x: sx(geneLabelRanks[i]), y: sy(geneLabelScores[i]) + 3.5, "font-size": 10.5, "text-anchor": "middle", textLength: geneLabelWidths[i], lengthAdjust: "spacingAndGlyphs", fill: "#555", "font-weight": "bold" }, g);
    t.textContent = name;
    
    
  });
  const axisY = mk("path", { d: "M47 754V546M43.5 552L47 546L50.5 552", fill: "none", stroke: "#333", "stroke-width": 1.1 }, g);
  
  
  const axisX = mk("path", { d: "M47 754H533M527 750.5L533 754L527 757.5", fill: "none", stroke: "#333", "stroke-width": 1.1 }, g);
  
  
  rankTicks.forEach(v => {
    const t = mk("text", { x: sx(v), y: 770, "font-size": 10, "text-anchor": "middle", textLength: String(v).length * 4.2, lengthAdjust: "spacingAndGlyphs", fill: "#222" }, g);
    t.textContent = v;
    
    
  });
  scoreTicks.forEach((v, i) => {
    const t = mk("text", { x: 41, y: sy(v) + 3.5, "font-size": 10, "text-anchor": "end", textLength: scoreTickLabels[i].length * 3.6, lengthAdjust: "spacingAndGlyphs", fill: "#222" }, g);
    t.textContent = scoreTickLabels[i];
    
    
  });
  piLegendColors.forEach((c, i) => {
    const r = mk("rect", { x: 540, y: 452 + i * 15, width: 6, height: 15, fill: c }, g);
    
    
  });
  const piLabelY = [470, 483, 496, 514];
  piLegendLabels.forEach((s, i) => {
    const t = mk("text", { x: 550, y: piLabelY[i], "font-size": 7, "font-weight": "bold", fill: "#111" }, g);
    t.textContent = s;
    
    
  });
})();

/* ---------- BAR CHARTS ---------- */
function drawBars(cfg) {
  const g = document.getElementById(cfg.id);
  const sy = linear(0, cfg.y0, cfg.yMax, cfg.yTop);
  const colors = ["#fdb0d8", "#5c6ffd"];
  cfg.values.forEach((v, i) => {
    const b = mk("rect", { x: cfg.barX[i], y: sy(v), width: cfg.barW, height: cfg.y0 - sy(v), fill: colors[i] }, g);
    
    
    const cx = cfg.barX[i] + cfg.barW / 2;
    const topY = sy(v + cfg.errors[i]);
    const e = mk("path", { d: "M" + cx + " " + sy(v) + "V" + topY + "M" + (cx - 7.5) + " " + topY + "H" + (cx + 7.5), stroke: "#111", "stroke-width": 1.4, fill: "none" }, g);
    
    
  });
  const axis = mk("path", { d: "M" + cfg.axisX + " " + cfg.yTop + "V" + cfg.y0 + "H" + cfg.axisEnd, stroke: "#111", "stroke-width": 1.4, fill: "none" }, g);
  
  
  const step = cfg.yMax / (cfg.ticks.length - 1);
  cfg.ticks.forEach((label, i) => {
    const y = sy(step * i);
    const tk = mk("line", { x1: cfg.axisX - 4, x2: cfg.axisX, y1: y, y2: y, stroke: "#111", "stroke-width": 1.3 }, g);
    
    
    const t = mk("text", { class: "serif", x: cfg.axisX - 5, y: y + 4.5, "font-size": 13, "text-anchor": "end", fill: "#111" }, g);
    t.textContent = label;
    
    
  });
  barGroups.forEach((name, i) => {
    const r = mk("rect", { x: cfg.legendX, y: cfg.legendY[i], width: cfg.legendW, height: 14, fill: colors[i] }, g);
    
    
    const t = mk("text", { class: "serif", x: cfg.legendX + cfg.legendW + 3, y: cfg.legendY[i] + 10.5, "font-size": 11, "letter-spacing": 0.4, fill: "#222" }, g);
    t.textContent = name;
    
    
  });
  const s = mk("text", { class: "serif", x: cfg.starX, y: cfg.starY, "font-size": 13, "text-anchor": "middle", fill: "#222", "letter-spacing": 0.5 }, g);
  s.textContent = cfg.stars;
  
  
  const yt = mk("text", { class: "serif", transform: "translate(" + cfg.titleX + "," + cfg.titleBottom + ") rotate(-90)", "font-size": 16, textLength: cfg.titleLen, lengthAdjust: "spacingAndGlyphs", fill: "#111" }, g);
  yt.textContent = cfg.title;
  
  
}
drawBars({ id: "barF", values: fValues, errors: fErrors, ticks: fTicks, yMax: 1.5, y0: 432, yTop: 251, axisX: 791, axisEnd: 939,
  barX: [819, 882], barW: 32, legendX: 800, legendY: [247, 264], legendW: 27,
  stars: "***", starX: 897, starY: 404, title: "Scara3 relative expression level", titleX: 762, titleBottom: 458, titleLen: 231 });
drawBars({ id: "barG", values: gValues, errors: gErrors, ticks: gTicks, yMax: 2, y0: 737, yTop: 542, axisX: 633, axisEnd: 789,
  barX: [660, 728], barW: 34, legendX: 640, legendY: [538, 557], legendW: 28,
  stars: "**", starX: 744, starY: 594, title: "Pparα relative expression level", titleX: 602, titleBottom: 760, titleLen: 243 });
drawBars({ id: "barH", values: hValues, errors: hErrors, ticks: hTicks, yMax: 1.5, y0: 737, yTop: 543, axisX: 857, axisEnd: 1014,
  barX: [885, 952], barW: 34, legendX: 865, legendY: [538, 557], legendW: 28,
  stars: "***", starX: 969, starY: 634, title: "Jun relative expression level", titleX: 823, titleBottom: 750, titleLen: 223 });
</script>
</body>
</html>
